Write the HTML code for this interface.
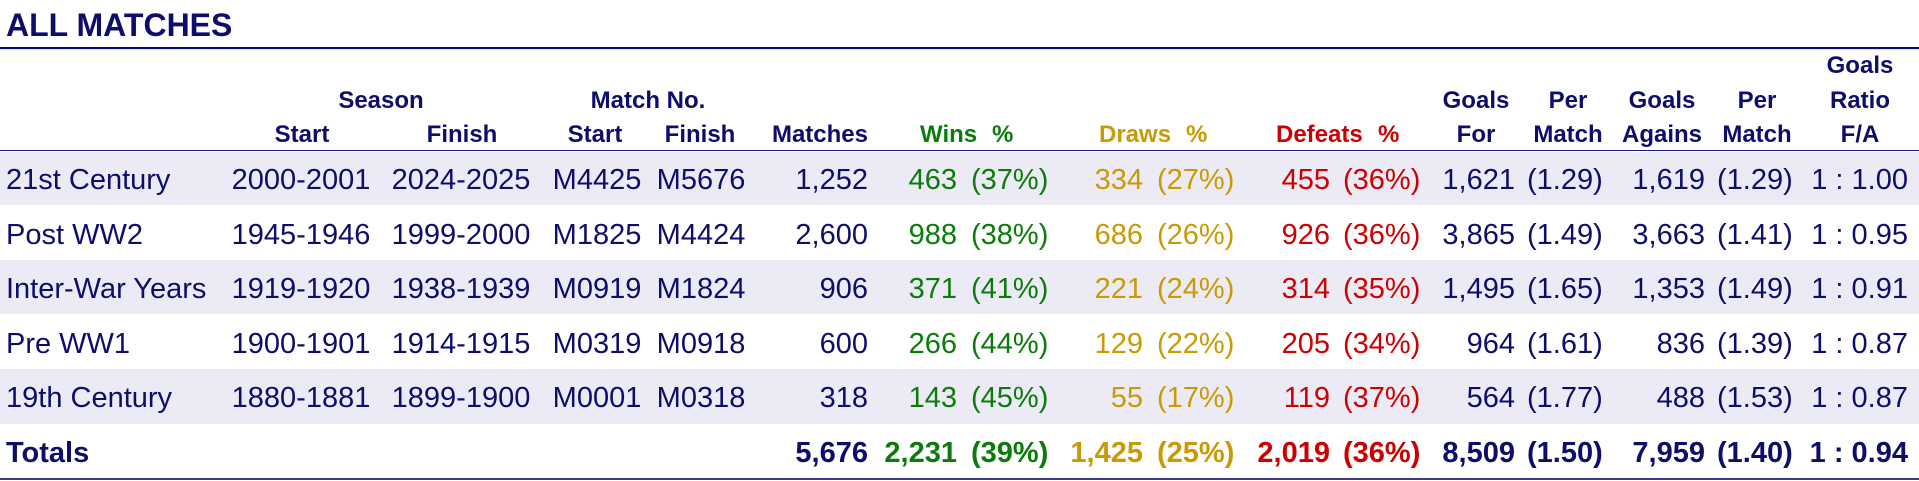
<!DOCTYPE html>
<html><head><meta charset="utf-8">
<style>
html,body{margin:0;padding:0;background:#fff;}
body{width:1919px;height:481px;position:relative;overflow:hidden;font-family:"Liberation Sans",Arial,sans-serif;color:#0d0d6b;}
.a{position:absolute;white-space:nowrap;}
.title{left:6px;top:8.1px;font-size:32px;line-height:35px;font-weight:bold;}
.h{font-size:24px;line-height:27px;font-weight:bold;}
.c{width:200px;text-align:center;}
.rw{position:absolute;left:0;width:1919px;height:32px;font-size:29px;line-height:32px;}
.rw div{position:absolute;top:0;white-space:nowrap;}
.b{font-weight:bold;}
.l{left:6px;}
.ss{left:201px;width:200px;text-align:center;}
.sf{left:361px;width:200px;text-align:center;}
.ms{left:497px;width:200px;text-align:center;}
.mf{left:601px;width:200px;text-align:center;}
.mat{right:1051px;text-align:right;}
.wn{right:962px;text-align:right;color:#0b7b0b;}
.wp{left:971px;color:#0b7b0b;}
.dn{right:776px;text-align:right;color:#c99a06;}
.dp{left:1157px;color:#c99a06;}
.fn{right:589px;text-align:right;color:#cc0000;}
.fp{left:1343px;color:#cc0000;}
.gf{right:404px;text-align:right;}
.gfp{left:1527px;}
.ga{right:214px;text-align:right;}
.gap{left:1717px;}
.ra{right:11px;text-align:right;}
.band{position:absolute;left:0;width:1919px;background:#ecebf5;}
.line{position:absolute;left:0;width:1919px;}
.g{color:#0b7b0b;}.y{color:#c99a06;}.r{color:#cc0000;}
</style></head><body>

<div class="a title">ALL MATCHES</div>
<div class="line" style="top:47px;height:2px;background:#0a0a80;"></div>
<div class="line" style="top:49px;height:1px;background:#e2e2f0;"></div>

<!-- header row A -->
<div class="a h c" style="left:1760px;top:52.2px;">Goals</div>
<!-- header row B -->
<div class="a h c" style="left:281px;top:86.7px;">Season</div>
<div class="a h c" style="left:548px;top:86.7px;">Match No.</div>
<div class="a h c" style="left:1376px;top:86.7px;">Goals</div>
<div class="a h c" style="left:1468px;top:86.7px;">Per</div>
<div class="a h c" style="left:1562px;top:86.7px;">Goals</div>
<div class="a h c" style="left:1657px;top:86.7px;">Per</div>
<div class="a h c" style="left:1760px;top:86.7px;">Ratio</div>
<!-- header row C -->
<div class="a h c" style="left:202px;top:120.9px;">Start</div>
<div class="a h c" style="left:362px;top:120.9px;">Finish</div>
<div class="a h c" style="left:495px;top:120.9px;">Start</div>
<div class="a h c" style="left:600px;top:120.9px;">Finish</div>
<div class="a h" style="right:1051px;top:120.9px;text-align:right;">Matches</div>
<div class="a h g" style="left:920px;top:120.9px;">Wins</div>
<div class="a h g" style="left:992px;top:120.9px;">%</div>
<div class="a h y" style="left:1099px;top:120.9px;">Draws</div>
<div class="a h y" style="left:1186px;top:120.9px;">%</div>
<div class="a h r" style="left:1276px;top:120.9px;">Defeats</div>
<div class="a h r" style="left:1378px;top:120.9px;">%</div>
<div class="a h c" style="left:1376px;top:120.9px;">For</div>
<div class="a h c" style="left:1468px;top:120.9px;">Match</div>
<div class="a h c" style="left:1562px;top:120.9px;">Agains</div>
<div class="a h c" style="left:1657px;top:120.9px;">Match</div>
<div class="a h c" style="left:1760px;top:120.9px;">F/A</div>

<div class="line" style="top:150px;height:1px;background:#1a1a78;"></div>

<div class="band" style="top:152px;height:53px;"></div>
<div class="band" style="top:260px;height:54px;"></div>
<div class="band" style="top:369px;height:55px;"></div>

<div class="rw" style="top:164px;">
<div class="l">21st Century</div><div class="ss">2000-2001</div><div class="sf">2024-2025</div><div class="ms">M4425</div><div class="mf">M5676</div><div class="mat">1,252</div><div class="wn">463</div><div class="wp">(37%)</div><div class="dn">334</div><div class="dp">(27%)</div><div class="fn">455</div><div class="fp">(36%)</div><div class="gf">1,621</div><div class="gfp">(1.29)</div><div class="ga">1,619</div><div class="gap">(1.29)</div><div class="ra">1 : 1.00</div>
</div>
<div class="rw" style="top:218.6px;">
<div class="l">Post WW2</div><div class="ss">1945-1946</div><div class="sf">1999-2000</div><div class="ms">M1825</div><div class="mf">M4424</div><div class="mat">2,600</div><div class="wn">988</div><div class="wp">(38%)</div><div class="dn">686</div><div class="dp">(26%)</div><div class="fn">926</div><div class="fp">(36%)</div><div class="gf">3,865</div><div class="gfp">(1.49)</div><div class="ga">3,663</div><div class="gap">(1.41)</div><div class="ra">1 : 0.95</div>
</div>
<div class="rw" style="top:273.2px;">
<div class="l">Inter-War Years</div><div class="ss">1919-1920</div><div class="sf">1938-1939</div><div class="ms">M0919</div><div class="mf">M1824</div><div class="mat">906</div><div class="wn">371</div><div class="wp">(41%)</div><div class="dn">221</div><div class="dp">(24%)</div><div class="fn">314</div><div class="fp">(35%)</div><div class="gf">1,495</div><div class="gfp">(1.65)</div><div class="ga">1,353</div><div class="gap">(1.49)</div><div class="ra">1 : 0.91</div>
</div>
<div class="rw" style="top:327.8px;">
<div class="l">Pre WW1</div><div class="ss">1900-1901</div><div class="sf">1914-1915</div><div class="ms">M0319</div><div class="mf">M0918</div><div class="mat">600</div><div class="wn">266</div><div class="wp">(44%)</div><div class="dn">129</div><div class="dp">(22%)</div><div class="fn">205</div><div class="fp">(34%)</div><div class="gf">964</div><div class="gfp">(1.61)</div><div class="ga">836</div><div class="gap">(1.39)</div><div class="ra">1 : 0.87</div>
</div>
<div class="rw" style="top:382.4px;">
<div class="l">19th Century</div><div class="ss">1880-1881</div><div class="sf">1899-1900</div><div class="ms">M0001</div><div class="mf">M0318</div><div class="mat">318</div><div class="wn">143</div><div class="wp">(45%)</div><div class="dn">55</div><div class="dp">(17%)</div><div class="fn">119</div><div class="fp">(37%)</div><div class="gf">564</div><div class="gfp">(1.77)</div><div class="ga">488</div><div class="gap">(1.53)</div><div class="ra">1 : 0.87</div>
</div>
<div class="rw b" style="top:437px;">
<div class="l">Totals</div><div class="mat">5,676</div><div class="wn">2,231</div><div class="wp">(39%)</div><div class="dn">1,425</div><div class="dp">(25%)</div><div class="fn">2,019</div><div class="fp">(36%)</div><div class="gf">8,509</div><div class="gfp">(1.50)</div><div class="ga">7,959</div><div class="gap">(1.40)</div><div class="ra">1 : 0.94</div>
</div>

<div class="line" style="top:478px;height:2px;background:#3b3b8f;"></div>
</body></html>
